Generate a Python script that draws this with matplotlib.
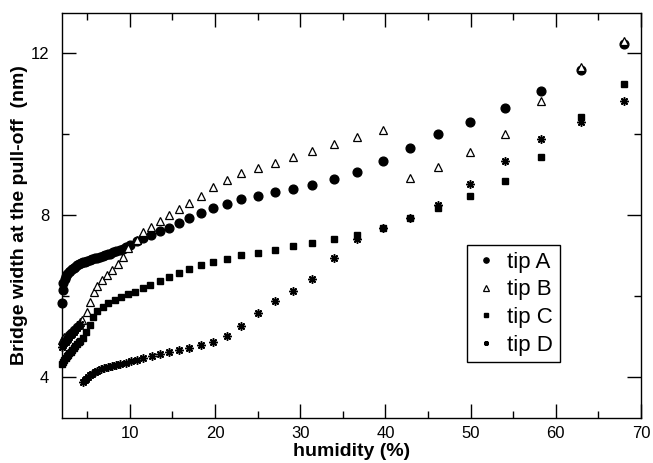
import matplotlib
matplotlib.use('Agg')
import matplotlib.pyplot as plt
from matplotlib.ticker import MultipleLocator

plt.rcParams['font.family'] = ['Liberation Sans', 'DejaVu Sans']

# tip A (filled circles)
hum_a = [2.05, 2.1, 2.2, 2.35, 2.5, 2.65, 2.8, 3.0, 3.2, 3.4, 3.6, 3.8,
         4.0, 4.25, 4.5, 4.75, 5.0, 5.3, 5.6, 5.9, 6.2, 6.5, 6.8, 7.1, 7.4,
         7.7, 8.0, 8.4, 8.8, 9.2, 9.6, 10.0, 10.8, 11.6, 12.5, 13.5, 14.6,
         15.8, 17.0, 18.4, 19.8, 21.4, 23.1, 25.0, 27.0, 29.1, 31.4, 34.0,
         36.7, 39.7, 42.9, 46.2, 49.9, 54.0, 58.3, 62.9, 68.0]
width_a = [5.83, 6.16, 6.34, 6.44, 6.5, 6.56, 6.6, 6.64, 6.68, 6.71, 6.74, 6.77,
           6.8, 6.82, 6.84, 6.86, 6.88, 6.9, 6.92, 6.94, 6.96, 6.98, 7.0, 7.02, 7.04,
           7.06, 7.09, 7.12, 7.15, 7.18, 7.22, 7.26, 7.37, 7.45, 7.53, 7.62, 7.7,
           7.82, 7.95, 8.07, 8.19, 8.29, 8.4, 8.48, 8.57, 8.66, 8.76, 8.9,
           9.07, 9.35, 9.66, 10.0, 10.3, 10.65, 11.07, 11.59, 12.23]

# tip B (open triangles)
hum_b = [2.0, 2.15, 2.3, 2.45, 2.6, 2.75, 2.9, 3.05, 3.2, 3.4, 3.6, 3.8, 4.0,
         4.2, 4.4, 4.93, 5.32, 5.75, 6.2, 6.75, 7.35, 7.95, 8.55, 9.2, 9.8,
         10.8, 11.6, 12.5, 13.5, 14.6, 15.8, 17.0, 18.3, 19.8, 21.4, 23.1,
         25.0, 27.0, 29.1, 31.4, 34.0, 36.7, 39.7, 42.9, 46.2, 49.9, 54.0,
         58.3, 62.9, 68.0]
width_b = [4.93, 4.96, 4.99, 5.02, 5.05, 5.08, 5.11, 5.14, 5.17, 5.21, 5.25, 5.29, 5.33,
           5.37, 5.41, 5.62, 5.87, 6.12, 6.27, 6.4, 6.52, 6.65, 6.8, 6.97, 7.2,
           7.4, 7.58, 7.72, 7.87, 8.0, 8.15, 8.31, 8.49, 8.7, 8.88, 9.05,
           9.17, 9.3, 9.44, 9.59, 9.76, 9.93, 10.11, 8.92, 9.2, 9.56, 10.01,
           10.83, 11.66, 12.3]

# tip C (filled squares)
hum_c = [2.0, 2.15, 2.3, 2.45, 2.6, 2.75, 2.9, 3.05, 3.2, 3.4, 3.6, 3.8, 4.0,
         4.2, 4.45, 4.9, 5.3, 5.7, 6.2, 6.8, 7.45, 8.25, 9.0, 9.8, 10.6, 11.5,
         12.4, 13.5, 14.6, 15.8, 17.0, 18.3, 19.8, 21.4, 23.1, 25.0, 27.0,
         29.1, 31.4, 34.0, 36.7, 39.7, 42.9, 46.2, 49.9, 54.0, 58.3, 62.9, 68.0]
width_c = [4.33, 4.38, 4.43, 4.48, 4.52, 4.56, 4.6, 4.64, 4.68, 4.73, 4.78, 4.83, 4.87,
           4.91, 4.98, 5.13, 5.3, 5.5, 5.64, 5.75, 5.83, 5.91, 5.98, 6.05, 6.12, 6.2,
           6.28, 6.38, 6.47, 6.59, 6.67, 6.78, 6.85, 6.93, 7.02, 7.08, 7.16,
           7.24, 7.33, 7.43, 7.53, 7.7, 7.93, 8.19, 8.48, 8.85, 9.45, 10.42, 11.25]

# tip D (stars)
hum_d = [2.0, 2.15, 2.3, 2.45, 2.6, 2.75, 2.9, 3.05, 3.2, 3.4, 3.6, 3.8, 4.0, 4.2,
         4.5, 4.7, 4.9, 5.1, 5.35, 5.6, 5.9, 6.2, 6.6, 7.0, 7.4, 7.9, 8.4, 8.9,
         9.5, 10.1, 10.8, 11.6, 12.6, 13.5, 14.6, 15.8, 17.0, 18.3, 19.8, 21.4,
         23.1, 25.0, 27.0, 29.1, 31.4, 34.0, 36.7, 39.7, 42.9, 46.2, 49.9, 54.0,
         58.3, 62.9, 68.0]
width_d = [4.76, 4.8, 4.84, 4.88, 4.92, 4.96, 5.0, 5.04, 5.08, 5.13, 5.18, 5.23, 5.28, 5.33,
           3.88, 3.93, 3.97, 4.0, 4.05, 4.09, 4.13, 4.17, 4.2, 4.23, 4.26, 4.28, 4.31, 4.33,
           4.37, 4.4, 4.44, 4.48, 4.53, 4.58, 4.62, 4.68, 4.72, 4.79, 4.87, 5.02,
           5.27, 5.6, 5.89, 6.13, 6.43, 6.95, 7.41, 7.68, 7.93, 8.27, 8.78, 9.35,
           9.88, 10.32, 10.83]

fig = plt.figure(figsize=(6.53, 4.63), dpi=100)
ax = fig.add_axes([0.0945, 0.0972, 0.8871, 0.8748])

ax.plot(hum_a, width_a, 'o', color='black', markersize=6.3, label='tip A', clip_on=False)
ax.plot(hum_b, width_b, '^', markerfacecolor='white', markeredgecolor='black',
        markeredgewidth=0.9, markersize=6.3, label='tip B', clip_on=False)
ax.plot(hum_c, width_c, 's', color='black', markersize=4.7, label='tip C', clip_on=False)
ax.plot(hum_d, width_d, linestyle='none', marker=(8, 2, 0), color='black',
        markeredgewidth=1.1, markersize=6, label='tip D', clip_on=False)

ax.set_xlim(2, 70)
ax.set_ylim(3, 13)
ax.xaxis.set_major_locator(MultipleLocator(10))
ax.xaxis.set_minor_locator(MultipleLocator(5))
ax.yaxis.set_major_locator(MultipleLocator(4))
ax.yaxis.set_minor_locator(MultipleLocator(2))
ax.tick_params(which='both', direction='in', top=True, right=True, labelsize=12, width=1)
ax.tick_params(which='major', length=10)
ax.tick_params(axis='x', which='major', pad=6)
ax.tick_params(axis='y', which='major', pad=9)
ax.tick_params(which='minor', length=5)
for s in ax.spines.values():
    s.set_linewidth(1)

ax.set_xlabel('humidity (%)', fontsize=14, fontweight='bold', labelpad=1)
ax.set_ylabel('Bridge width at the pull-off  (nm)', fontsize=14, fontweight='bold', labelpad=2)

leg = ax.legend(loc='upper left', bbox_to_anchor=(0.70, 0.427), borderaxespad=0,
                fontsize=16, markerscale=0.6, fancybox=False, framealpha=1,
                edgecolor='black', handletextpad=0.4, labelspacing=0.3,
                borderpad=0.3, handlelength=1.1)
leg.get_frame().set_linewidth(1)

plt.savefig('out.png', dpi=100)
